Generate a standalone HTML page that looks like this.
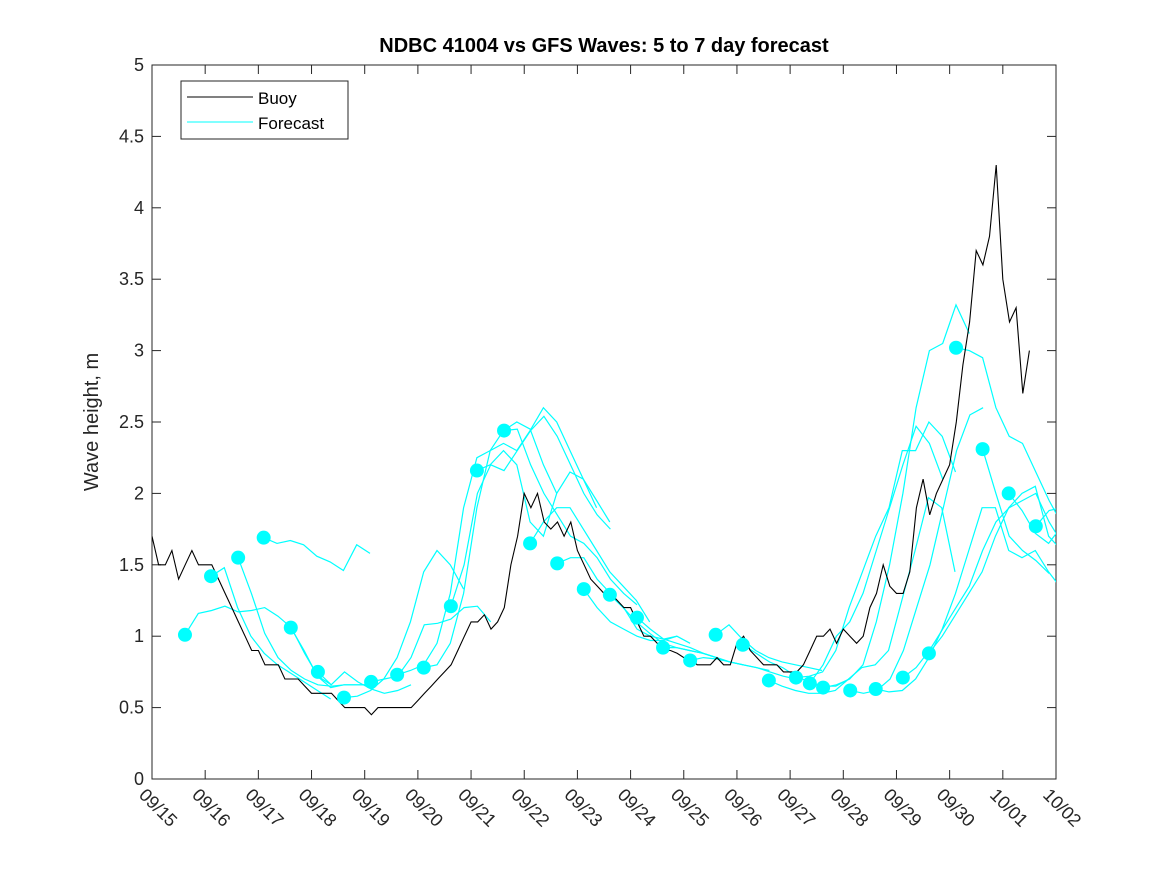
<!DOCTYPE html>
<html><head><meta charset="utf-8"><style>
body{margin:0;background:#fff;}
svg text{font-family:"Liberation Sans",sans-serif;fill:#262626;}
</style></head><body>
<svg id="chart" width="1167" height="875" xmlns="http://www.w3.org/2000/svg">
<defs><clipPath id="plotclip"><rect x="152" y="65" width="904" height="714"/></clipPath></defs>
<rect width="1167" height="875" fill="#fff"/>
<text x="604" y="52" text-anchor="middle" font-size="20" font-weight="bold" style="fill:#000">NDBC 41004 vs GFS Waves: 5 to 7 day forecast</text>
<text transform="translate(98,422) rotate(-90)" text-anchor="middle" font-size="20">Wave height, m</text>
<g id="axes"></g>
<g id="series" clip-path="url(#plotclip)"></g>
<g>
<rect x="181" y="81" width="167" height="58" fill="#fff" stroke="#262626" stroke-width="1"/>
<line x1="187" y1="97" x2="253" y2="97" stroke="#000" stroke-width="1"/>
<text x="258" y="104" font-size="17" style="fill:#000">Buoy</text>
<line x1="187" y1="122" x2="253" y2="122" stroke="#00ffff" stroke-width="1"/>
<text x="258" y="129" font-size="17" style="fill:#000">Forecast</text>
</g>
</svg>
<script>
const xTickLabels=["09/15","09/16","09/17","09/18","09/19","09/20","09/21","09/22","09/23","09/24","09/25","09/26","09/27","09/28","09/29","09/30","10/01","10/02"];
const yTickLabels=["0","0.5","1","1.5","2","2.5","3","3.5","4","4.5","5"];
const buoyStep=0.125;
const buoyValues=[1.7,1.5,1.5,1.6,1.4,1.5,1.6,1.5,
1.5,1.5,1.4,1.3,1.2,1.1,1.0,0.9,
0.9,0.8,0.8,0.8,0.7,0.7,0.7,0.65,
0.6,0.6,0.6,0.6,0.55,0.5,0.5,0.5,
0.5,0.45,0.5,0.5,0.5,0.5,0.5,0.5,
0.55,0.6,0.65,0.7,0.75,0.8,0.9,1.0,
1.1,1.1,1.15,1.05,1.1,1.2,1.5,1.7,
2.0,1.9,2.0,1.8,1.75,1.8,1.7,1.8,
1.6,1.5,1.4,1.35,1.3,1.3,1.25,1.2,
1.2,1.1,1.0,1.0,0.95,0.9,0.9,0.88,
0.85,0.85,0.8,0.8,0.8,0.85,0.8,0.8,
0.95,1.0,0.9,0.85,0.8,0.8,0.8,0.75,
0.75,0.75,0.8,0.9,1.0,1.0,1.05,0.95,
1.05,1.0,0.95,1.0,1.2,1.3,1.5,1.35,
1.3,1.3,1.45,1.9,2.1,1.85,2.0,2.1,
2.2,2.5,2.9,3.2,3.7,3.6,3.8,4.3,
3.5,3.2,3.3,2.7,3.0];
const forecastStep=0.25;
const forecastStarts=[0.62,1.11,1.62,2.1,2.61,3.12,3.61,4.12,4.61,5.11,5.62,6.11,6.62,7.11,7.62,8.12,8.61,9.12,9.61,10.12,10.6,11.11,11.6,12.11,12.37,12.62,13.13,13.61,14.12,14.61,15.12,15.62,16.11,16.62];
const forecastValues=[
[1.01,1.16,1.18,1.21,1.17,1.18,1.20,1.14,1.06,0.88,0.72,0.66],
[1.42,1.48,1.2,1.0,0.88,0.80,0.74,0.68,0.62,0.56],
[1.55,1.3,1.02,0.85,0.76,0.70,0.66,0.65,0.66,0.66,0.66],
[1.69,1.65,1.67,1.64,1.56,1.52,1.46,1.64,1.58],
[1.06,0.9,0.72,0.64,0.66,0.66,0.66],
[0.75,0.66,0.75,0.68,0.63,0.60,0.62,0.66],
[0.57,0.58,0.62,0.7,0.85,1.1,1.45,1.6,1.5,1.33],
[0.68,0.70,0.72,0.85,1.08,1.09,1.12,1.2,1.21,1.1],
[0.73,0.76,0.80,0.95,1.3,1.9,2.25,2.3,2.44,2.5,2.45,2.2,2.0],
[0.78,0.80,0.95,1.3,1.9,2.3,2.35,2.3,2.44,2.6,2.5,2.3,2.1,1.9],
[1.21,1.5,2.0,2.2,2.16,2.3,2.44,2.54,2.4,2.2,2.0,1.85,1.75],
[2.16,2.2,2.3,2.2,1.8,1.7,2.0,2.15,2.1,1.95,1.8],
[2.44,2.45,2.2,2.0,1.85,1.7,1.65,1.55,1.4,1.3,1.22],
[1.65,1.8,1.9,1.9,1.75,1.6,1.45,1.35,1.25,1.1],
[1.51,1.55,1.55,1.4,1.3,1.2,1.05,1.0,0.98,1.0],
[1.33,1.2,1.1,1.05,1.0,0.97,0.97,1.0,0.95],
[1.29,1.2,1.1,1.02,0.95,0.92,0.9,0.88,0.85],
[1.13,1.05,0.98,0.95,0.92,0.88,0.85,0.82,0.8],
[0.92,0.92,0.9,0.88,0.85,0.82,0.8,0.78,0.76],
[0.83,0.85,0.84,0.82,0.8,0.78,0.75,0.72,0.7],
[1.01,1.08,0.98,0.9,0.85,0.82,0.8,0.78,0.76],
[0.94,0.88,0.82,0.78,0.72,0.68,0.65,0.65,0.7],
[0.69,0.65,0.62,0.6,0.6,0.62,0.7,0.78,0.8,0.9,1.25,1.6,1.97,1.9,1.45],
[0.71,0.72,0.75,0.9,1.2,1.45,1.7,1.9,2.3,2.3,2.5,2.4,2.15],
[0.67,0.8,1.0,1.1,1.3,1.6,1.9,2.2,2.47,2.35,2.1],
[0.64,0.66,0.7,0.8,1.1,1.5,2.0,2.6,3.0,3.05,3.32,3.12],
[0.62,0.6,0.62,0.7,0.9,1.2,1.5,1.9,2.3,2.55,2.6],
[0.63,0.61,0.62,0.7,0.85,1.05,1.3,1.6,1.9,1.9,1.6,1.55,1.6,1.45,1.33],
[0.71,0.78,0.9,1.05,1.2,1.35,1.6,1.8,1.9,1.95,2.0,1.8,1.65],
[0.88,1.0,1.15,1.3,1.45,1.7,1.9,2.0,2.05,1.7,1.6,1.55,1.45,1.4],
[3.02,3.0,2.95,2.6,2.4,2.35,2.15,1.95,1.78,1.7,1.6,1.55,1.5,1.45],
[2.31,2.0,1.7,1.6,1.53,1.44],
[2.0,1.88,1.72,1.65,1.77,1.75,1.75],
[1.77,1.88,1.9,2.07]];
const NS="http://www.w3.org/2000/svg";
const L=152,R=1056,T=65,B=779,XMAX=17,YMAX=5;
const xs=d=>L+(d/XMAX)*(R-L);
const ys=v=>B-(v/YMAX)*(B-T);
function mk(tag,attrs,parent){const e=document.createElementNS(NS,tag);for(const k in attrs)e.setAttribute(k,attrs[k]);parent.appendChild(e);return e;}
const axes=document.getElementById('axes'),series=document.getElementById('series');
const frame=mk('rect',{x:L,y:T,width:R-L,height:B-T,fill:'none',stroke:'#262626','stroke-width':1},axes);


yTickLabels.forEach((t,i)=>{const y=ys(i*0.5);
mk('line',{x1:L,y1:y,x2:L+9,y2:y,stroke:'#262626'},axes);
mk('line',{x1:R,y1:y,x2:R-9,y2:y,stroke:'#262626'},axes);
const tx=mk('text',{x:L-8,y:y+6,'text-anchor':'end','font-size':18},axes);tx.textContent=t;

});
xTickLabels.forEach((t,i)=>{const x=xs(i);
mk('line',{x1:x,y1:B,x2:x,y2:B-9,stroke:'#262626'},axes);
mk('line',{x1:x,y1:T,x2:x,y2:T+9,stroke:'#262626'},axes);
const tx=mk('text',{transform:`translate(${x-14},${B+17}) rotate(45)`,'font-size':18},axes);tx.textContent=t;

});
forecastValues.forEach((vals,k)=>{const s=forecastStarts[k];
const pts=vals.map((v,j)=>xs(s+j*forecastStep).toFixed(1)+','+ys(v).toFixed(1)).join(' ');
const pl=mk('polyline',{points:pts,fill:'none',stroke:'#00ffff','stroke-width':1.2},series);

});
const bpts=buoyValues.map((v,j)=>xs(j*buoyStep).toFixed(1)+','+ys(v).toFixed(1)).join(' ');
const bl=mk('polyline',{points:bpts,fill:'none',stroke:'#000','stroke-width':1.1},series);


forecastValues.forEach((vals,k)=>{
const c=mk('circle',{cx:xs(forecastStarts[k]),cy:ys(vals[0]),r:7,fill:'#00ffff'},series);

});
</script>
</body></html>
